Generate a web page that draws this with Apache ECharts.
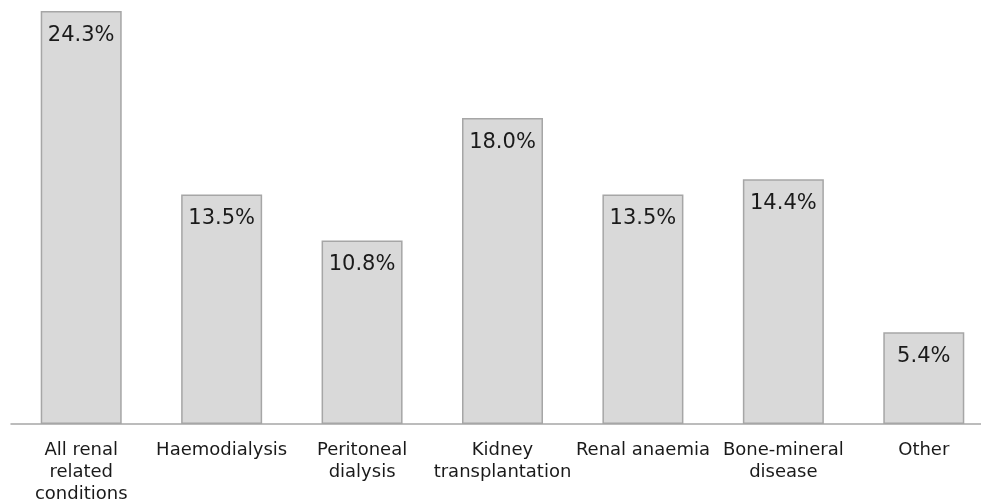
<!DOCTYPE html>
<html>
<head>
<meta charset="utf-8">
<script src="https://cdn.jsdelivr.net/npm/echarts@6/dist/echarts.min.js"></script>
<style>
html,body{margin:0;padding:0;background:#fff;}
#chart{width:981px;height:502px;}
</style>
</head>
<body>
<div id="chart"></div>
<script>
var categories = ["All renal\nrelated\nconditions", "Haemodialysis", "Peritoneal\ndialysis", "Kidney\ntransplantation", "Renal anaemia", "Bone-mineral\ndisease", "Other"];
var values = [24.3, 13.5, 10.8, 18.0, 13.5, 14.4, 5.4];

var chart = echarts.init(document.getElementById('chart'), null, {renderer: 'canvas'});
chart.setOption({
  animation: false,
  backgroundColor: '#ffffff',
  grid: {left: 11, width: 983, top: -1, height: 425, outerBoundsMode: 'none', containLabel: false},
  xAxis: {
    type: 'category',
    data: categories,
    axisLine: {show: true, lineStyle: {color: '#a6a6a6', width: 1.5}},
    axisTick: {show: false},
    axisLabel: {
      interval: 0,
      margin: 15,
      fontFamily: 'DejaVu Sans',
      fontSize: 18,
      lineHeight: 22,
      color: '#1a1a1a'
    }
  },
  yAxis: {
    type: 'value',
    min: 0,
    max: 25,
    show: false,
    splitLine: {show: false}
  },
  series: [{
    type: 'bar',
    data: values,
    barWidth: 81,
    itemStyle: {color: '#d9d9d9', borderColor: '#a6a6a6', borderWidth: 1.5},
    label: {
      show: true,
      position: 'insideTop',
      distance: 14,
      fontFamily: 'DejaVu Sans',
      fontSize: 21,
      color: '#1a1a1a',
      formatter: function (p) { return p.value.toFixed(1) + '%'; }
    }
  }]
});
</script>
</body>
</html>
